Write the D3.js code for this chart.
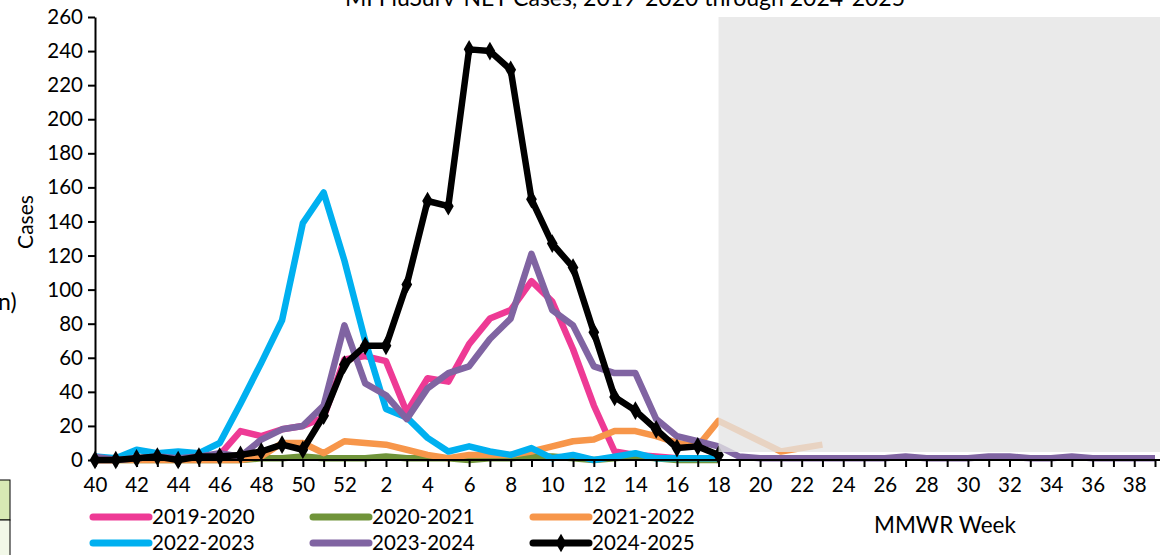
<!DOCTYPE html>
<html><head><meta charset="utf-8">
<script src="https://cdn.jsdelivr.net/npm/d3@7"></script>
<style>body{margin:0;background:#fff}text{font-family:Lato,"Open Sans",sans-serif}</style>
</head><body><svg id="c" width="1167" height="555"></svg>
<script>
const weeks=[40,41,42,43,44,45,46,47,48,49,50,51,52].concat(d3.range(1,40));
const s1920=[0,0,1,1,1,2,3,17,14,18,20,25,59,61,58,28,48,46,68,83,88,105,93,65,32,5,3,2,1,1,0];
const s2021=[0,0,0,0,0,0,0,0,1,1,2,1,1,1,2,1,1,1,0,1,1,2,2,1,0,1,2,1,0,0,0];
const s2122=[0,0,0,0,0,0,0,0,2,10,10,4,11,10,9,6,3,1,3,3,3,5,8,11,12,17,17,14,10,8,23,17,11,5,7,9];
const s2223=[2,1,6,4,5,4,10,33,57,82,139,157,117,70,30,25,13,5,8,5,3,7,1,3,0,2,4,1,1,1,1];
const s2324=[2,0,1,2,1,2,4,2,12,18,20,32,79,45,38,24,42,51,55,71,83,121,88,79,55,51,51,24,14,11,8,2,1,1,1,1,1,1,1,2,1,1,1,2,2,1,1,2,1,1,1,1];
const s2425=[0,0,1,2,0,2,2,3,5,9,6,26,56,67,67,103,152,149,241,240,229,153,127,113,75,37,29,18,7,8,3];
const yTicks=d3.range(0,261,20);
const series=[["2019-2020",s1920,"#ee3a95"],["2020-2021",s2021,"#70943a"],["2021-2022",s2122,"#f7964a"],
["2022-2023",s2223,"#00b0f0"],["2023-2024",s2324,"#8064a2"],["2024-2025",s2425,"#000"]];
const svg=d3.select("#c");
const x=d3.scaleLinear().domain([0,51]).range([95,1155]);
const y=d3.scaleLinear().domain([0,260]).range([460,17]);
svg.append("text").attr("x",625).attr("y",6).attr("text-anchor","middle").attr("font-size",23).text("MI FluSurv-NET Cases, 2019-2020 through 2024-2025");
svg.append("text").attr("x",-2).attr("y",310).attr("font-size",23).text("n)");
svg.append("rect").attr("x",-5).attr("y",480).attr("width",15).attr("height",40).attr("fill","#d8e9b4").attr("stroke","#000");
svg.append("rect").attr("x",-5).attr("y",520).attr("width",15).attr("height",40).attr("fill","#f2f8e8").attr("stroke","#000");
const line=d3.line().x((d,i)=>x(i)).y(d=>y(d));
series.forEach(([n,v,c])=>{
 svg.append("path").attr("d",line(v)).attr("fill","none").attr("stroke",c).attr("stroke-width",6.5).attr("stroke-linejoin","round");
});
svg.selectAll(".mk").data(s2425).join("path").attr("transform",(d,i)=>`translate(${x(i)},${y(d)})`).attr("d",d3.symbol(d3.symbolDiamond,100)).attr("fill","#000");
svg.append("rect").attr("x",x(30)).attr("y",17).attr("width",1160-x(30)).attr("height",452-17).attr("fill","#e4e4e4").attr("opacity",0.78);
const ya=svg.append("g").attr("transform","translate(95,0)").call(d3.axisLeft(y).tickValues(yTicks).tickSize(7).tickSizeOuter(0));
ya.select(".domain").attr("stroke-width",2);ya.selectAll("line").attr("stroke-width",2);
ya.selectAll("text").attr("font-size",20.5).attr("x",-12).attr("font-family","Lato,sans-serif");
const xa=svg.append("g").attr("transform","translate(0,460)").call(d3.axisBottom(x).tickValues(d3.range(0,52)).tickSize(7).tickSizeOuter(0).tickFormat((d,i)=>i%2==0?weeks[i]:""));
xa.select(".domain").attr("stroke-width",2).attr("d","M95,0H1160");xa.selectAll("line").attr("stroke-width",2);
xa.selectAll("text").attr("font-size",20.5).attr("dy","1.05em").attr("font-family","Lato,sans-serif");
svg.append("text").attr("transform","translate(33,222) rotate(-90)").attr("text-anchor","middle").attr("font-size",21).text("Cases");
svg.append("text").attr("x",945).attr("y",533).attr("text-anchor","middle").attr("font-size",22.5).text("MMWR Week");
const lg=[[93,517],[313,517],[533,517],[93,543],[313,543],[533,543]];
series.forEach(([n,v,c],i)=>{
 const [lx,ly]=lg[i];
 svg.append("line").attr("x1",lx).attr("x2",lx+56).attr("y1",ly).attr("y2",ly).attr("stroke",c).attr("stroke-width",7).attr("stroke-linecap","round");
 if(i==5) svg.append("path").attr("transform",`translate(${lx+28},${ly})`).attr("d",d3.symbol(d3.symbolDiamond,100)).attr("fill","#000");
 svg.append("text").attr("x",lx+59).attr("y",ly+7).attr("font-size",20.5).text(n);
});
</script></body></html>
